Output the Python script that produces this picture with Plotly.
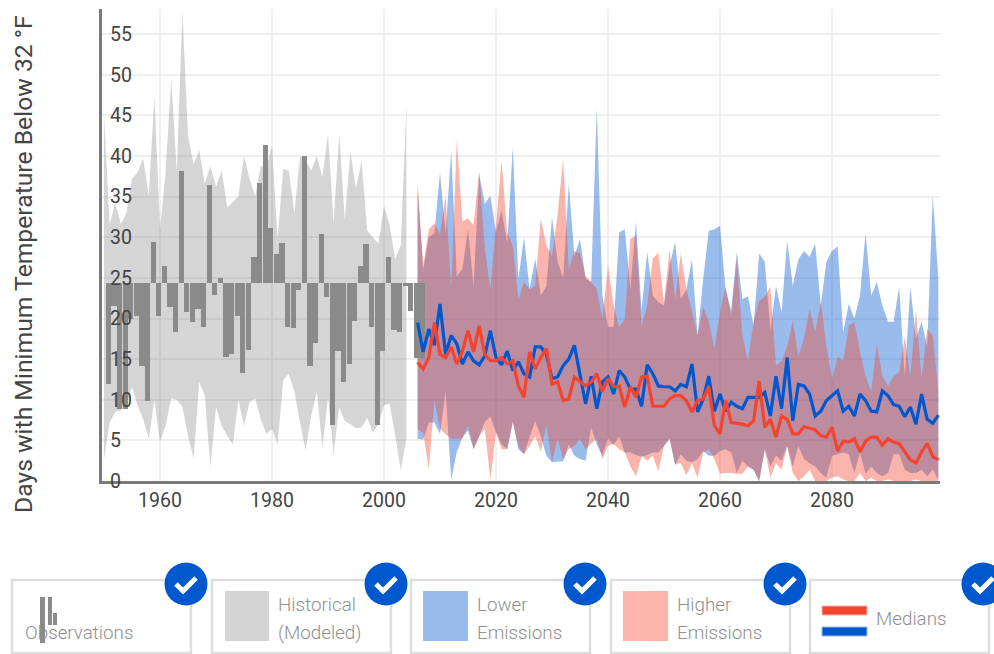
import plotly.graph_objects as go

# ---------- data ----------
obs_years = list(range(1951, 2008))
obs_values = [11.9, 21.5, 8.9, 8.9, 20.0, 20.3, 14.2, 9.9, 29.4, 20.3, 26.5, 21.4, 18.4, 38.2, 20.8, 19.6, 21.2, 19.0,
              36.4, 22.9, 25.0, 15.3, 15.6, 20.3, 13.3, 16.1, 27.6, 36.7, 41.3, 31.1, 27.9, 29.3, 19.0, 18.8, 23.5,
              40.0, 14.2, 17.0, 30.4, 22.7, 6.9, 16.0, 12.2, 14.4, 19.7, 26.5, 29.2, 19.0, 6.9, 16.0, 27.6, 18.6,
              18.4, 24.0, 20.9, 15.1, 15.1]
obs_baseline = 24.4

hist_years = list(range(1950, 2005))
hist_upper = [45, 31.5, 34.3, 31.6, 33, 37.2, 38, 39.7, 35.1, 47.4, 31, 38, 49.5, 38, 57.9, 42.5, 39, 40.7, 36.6, 38.8,
              36.2, 38.2, 33.7, 34.3, 35.1, 40, 37.2, 35, 38.8, 38.5, 41.3, 29.8, 38.4, 38.2, 33, 40, 39.5, 38.2, 40,
              37.4, 42.7, 31.8, 42.7, 32.2, 40.5, 36, 39.4, 30.8, 30, 29.2, 33.9, 31.5, 27.3, 29, 46.2]
hist_lower = [2.7, 7.2, 8.5, 8.7, 9.3, 11.6, 9.3, 7.6, 5.2, 10, 4.8, 6.8, 10.2, 10, 9.1, 5.6, 2.7, 12.2, 10.5, 1.7,
              9.1, 6.8, 5.6, 4.5, 10, 6.8, 9.7, 10.2, 7.6, 5.8, 6.4, 4.5, 12.4, 13.2, 11, 7.2, 3.8, 8, 11, 4.2, 10.3,
              3.3, 9.1, 7.4, 7, 6.5, 6.6, 7.8, 6, 7, 9.3, 9.5, 5.6, 1.3, 5.2]

proj_years = list(range(2006, 2100))
lower_top = [36, 26, 30, 30.5, 38, 30.5, 40.6, 25.2, 26.1, 31, 24, 37.8, 34.1, 35.1, 30.6, 33.3, 29.2, 41.1, 24.9, 30,
             23.6, 27.4, 22.8, 24, 32.5, 27, 25, 36.6, 27.7, 29.8, 24.9, 24.5, 46, 22.8, 19, 19, 30.6, 31, 23.6, 31.9,
             21, 28.2, 22.8, 22, 21.6, 26.5, 29.4, 22.4, 23.6, 27.3, 17.9, 24.9, 30.8, 31, 31.4, 23.6, 21, 28.2, 22.4,
             22.7, 19.1, 28, 27, 18.5, 24, 20.8, 29.6, 24, 27.3, 28.3, 27.6, 29.2, 21.6, 27, 28.3, 28.9, 18.3, 21.8,
             20, 22.8, 30.6, 22.8, 24.5, 21.6, 19.6, 19.6, 23.9, 12.9, 23.9, 17.5, 19.6, 16.6, 35.1, 24.9]
lower_bottom = [5.2, 5.1, 7.2, 7.2, 5.8, 11, 0.2, 3.6, 5.4, 6.2, 3.9, 5.5, 7.3, 7.9, 6, 4.5, 3.9, 7.3, 3.9, 3.3,
                5.4, 7.4, 5.5, 3.1, 2.3, 2.4, 2.4, 4.5, 3.1, 2.7, 2.5, 6.6, 4.5, 3.1, 5.2, 4.4, 5.5, 3.5, 3.5, 3.2,
                3, 3.2, 3.5, 3.5, 4.3, 5.2, 1.9, 3.3, 2.5, 2.3, 2.7, 3.7, 3.1, 3.1, 3.7, 3.9, 3.5, 1, 2.5, 1.8, 1.4, 0,
                3.9, 1.8, 3.1, 2.5, 4.3, 1.8, 4.3, 2.7, 2.2, 1.8, 1, 0.4, 3.1, 3.3, 3.5, 3.3, 1, 3.5, 0.9, 1.8, 1,
                0.6, 1, 3.3, 3.3, 1.4, 1, 1, 1.4, 0.6, 1.4, 0.2]
higher_top = [36.8, 26.5, 31, 31.7, 30.4, 35.1, 23.6, 42.1, 31.9, 32.3, 31.5, 38.2, 28.6, 23.6, 31.5, 39.4, 30.6, 28.9,
              22.4, 24.5, 23.6, 24, 32.3, 29, 27.7, 32.7, 39.7, 26, 28.3, 28, 25.2, 24.5, 23.6, 20, 26.5, 21.6, 19,
              19.9, 29.8, 30.2, 19, 21.6, 27.4, 28.1, 21.9, 28.5, 22.4, 28, 23.6, 20.8, 17.9, 21.4, 19.6, 16.3, 20.8,
              23.9, 20.3, 27.3, 17.9, 14.8, 19.6, 22.2, 22.7, 23.9, 14.2, 14.8, 16.6, 19.7, 15.4, 17.5, 21.2, 18.3, 22,
              16.6, 12.6, 15.3, 14.8, 19.1, 19.6, 15.9, 12.9, 11, 16.9, 12.9, 11.7, 12.9, 13.4, 17.7, 12.9, 21, 12.6,
              18.7, 17.9, 11]
higher_bottom = [6.4, 5.9, 1.5, 9.9, 6.4, 5.8, 5.2, 5.2, 5.2, 6.8, 3.9, 5.5, 6.4, 0.2, 6, 3.9, 3.9, 7.3, 4.3, 3.3,
                 4.3, 5.5, 3.6, 7, 2.3, 5.2, 2.7, 3.9, 4.3, 5.2, 3.9, 4.6, 5.2, 2.7, 4.3, 4.6, 3.9, 3.5, 1.8, 0.6, 3.1,
                 2.5, 3.1, 1.2, 4.3, 5.2, 2.1, 2.2, 0.7, 2.2, 0.4, 3.5, 3.9, 2.7, 0.9, 1, 1, 0.9, 0.9, 1.8, 1.4, 0,
                 3.9, 0.4, 2.2, 1.4, 4.3, 1, 0, 0.6, 1.4, 0, 0, 0, 0.4, 0.6, 0.2, 0, 0, 1, 0, 0.4, 0, 0, 0.2, 0, 0, 0,
                 0, 0.2, 0, 0, 0, 0]
lower_median = [19.5, 15.9, 18.7, 16.7, 21.8, 15.6, 17.9, 16.9, 14.4, 15.9, 14.8, 14.3, 15.4, 18.5, 15.2, 14.3, 16, 13.6,
                14.7, 13.2, 12.8, 16.5, 16.5, 15.6, 12.6, 12.8, 14.2, 15, 16.7, 12.9, 9.5, 12.9, 8.9, 12.2, 12.8, 10.7,
                13.6, 12.8, 11.3, 11.3, 9.2, 14.3, 13.2, 11.7, 11.6, 11.6, 11.1, 11.9, 11.6, 14.4, 8.5, 10.1, 12.9, 8.6,
                10.7, 8.6, 9.7, 9.2, 8.9, 10.3, 10.3, 10.3, 10.9, 8, 12.9, 8.9, 15.2, 7.4, 11.9, 11.7, 10.7, 8, 8.6, 9.9,
                10.5, 11.1, 8.6, 9.2, 8, 10.7, 9.9, 8.6, 8.5, 11.1, 10.5, 9.4, 9.2, 7.9, 9.1, 7, 10.7, 7.6, 7.1, 8.1]
higher_median = [14.6, 13.8, 15.2, 19.5, 15.6, 15.2, 16.5, 14.4, 16, 18.5, 15.9, 19.1, 15.6, 14.8, 14.8, 15.2, 14.4, 14.8,
                 11.7, 10.3, 15.9, 13.8, 15.2, 16.3, 11.9, 12.2, 9.9, 10.1, 12.8, 12.3, 11.7, 12.2, 13.2, 11, 12.6, 11.6,
                 11.7, 9.1, 11.6, 10.3, 12.8, 12.9, 9.2, 9.2, 9.2, 10.1, 10.5, 10.5, 9.9, 8.5, 9.9, 10.1, 11.6, 6.8, 5.8,
                 9.9, 7.2, 7.1, 7, 6.8, 7.4, 12.3, 6.6, 7.6, 5.4, 8, 7.6, 5.8, 5.8, 6.7, 6.5, 6.3, 5.6, 5.4, 6.6, 3.7,
                 4.9, 4.8, 5.2, 3.6, 4.9, 5.4, 5.4, 4.4, 5.2, 4.8, 4.6, 3.6, 2.6, 2.2, 3.6, 4.6, 3, 2.6]
for arr in (lower_top, lower_bottom, higher_top, higher_bottom, lower_median, higher_median):
    assert len(arr) == len(proj_years), len(arr)
assert len(hist_upper) == len(hist_years) == len(hist_lower)
assert len(obs_values) == len(obs_years)

x_ticks = [1960, 1980, 2000, 2020, 2040, 2060, 2080]
y_ticks = [0, 5, 10, 15, 20, 25, 30, 35, 40, 45, 50, 55]
y_title = "Days with Minimum Temperature Below 32 °F"

BLUE = "#0058cf"
RED = "#f5442d"
W, H = 994, 654
L, R, T, B = 102, 940, 9, 481
TEXT = "#444444"
FONT = "Roboto"


def band(xs, up, lo, color):
    return go.Scatter(x=xs + xs[::-1], y=up + lo[::-1], fill="toself", fillcolor=color,
                      mode="none", hoverinfo="skip", showlegend=False)


fig = go.Figure()
fig.add_trace(band(hist_years, hist_upper, hist_lower, "rgba(120,120,120,0.31)"))
fig.add_trace(band(proj_years, lower_top, lower_bottom, "rgba(0,88,207,0.4)"))
fig.add_trace(band(proj_years, higher_top, higher_bottom, "rgba(245,68,45,0.4)"))
fig.add_trace(go.Bar(x=obs_years, y=[v - obs_baseline for v in obs_values], base=obs_baseline,
                     width=0.93, offset=-0.67, marker=dict(color="#8a8a8a", line_width=0),
                     hoverinfo="skip", showlegend=False, yaxis="y2"))
fig.add_trace(go.Scatter(x=proj_years, y=lower_median, mode="lines", line=dict(color=BLUE, width=3.2),
                         hoverinfo="skip", showlegend=False, yaxis="y2"))
fig.add_trace(go.Scatter(x=proj_years, y=higher_median, mode="lines", line=dict(color=RED, width=3.2),
                         hoverinfo="skip", showlegend=False, yaxis="y2"))

yrange = [0, 58.1]
fig.update_layout(
    width=W, height=H, autosize=False, paper_bgcolor="white", plot_bgcolor="white",
    margin=dict(l=L, r=W - R, t=T, b=H - B, pad=0),
    font=dict(family=FONT, color=TEXT),
    xaxis=dict(range=[1949.64, 2099.29], tickvals=x_ticks, ticks="", showline=True, linecolor="#7a7a7a", linewidth=3,
               gridcolor="#efefef", gridwidth=2, zeroline=False, tickfont=dict(size=19.5, color=TEXT)),
    yaxis=dict(range=yrange, tickvals=y_ticks, ticks="", showline=True, linecolor="#7a7a7a", linewidth=3,
               gridcolor="#efefef", gridwidth=2, zeroline=False, ticklabelposition="inside",
               ticklabelstandoff=9, ticklabeloverflow="allow", tickfont=dict(size=19.5, color=TEXT)),
    yaxis2=dict(range=yrange, overlaying="y", visible=False),
    bargap=0,
)


def px(x):
    return (x - L) / (R - L)


def py(y):
    return (B - y) / (B - T)


shapes, notes = [], []


def rect(x0, y0, x1, y1, fill, line=None, lw=0):
    shapes.append(dict(type="rect", xref="paper", yref="paper", x0=px(x0), x1=px(x1), y0=py(y0), y1=py(y1),
                       fillcolor=fill, line=dict(color=line or fill, width=lw), layer="above"))


def label(x, y, text):
    notes.append(dict(xref="paper", yref="paper", x=px(x - 2), y=py(y), text=text, showarrow=False, xanchor="left",
                      yanchor="middle", font=dict(family="Roboto Light, Roboto", size=18.8, color="#909090")))


box_lefts = [12, 212, 411, 611, 810]
for left in box_lefts:
    rect(left, 580, left + 179, 653, "white", "#dedede", 2.5)

# swatches
for x0, x1, y0, y1 in [(40, 45, 597, 643), (48, 52, 597, 625), (53, 57, 613, 625)]:
    rect(x0, y0, x1, y1, "#8a8a8a")
rect(225, 591, 269, 641, "#d4d4d4")
rect(423, 591, 468, 641, "#99bbec")
rect(623, 591, 668, 641, "#fbb4ab")
rect(822, 606, 867, 615, RED, "#fbb4ab", 1)
rect(822, 627, 867, 636, BLUE, "#99bbec", 1)

label(25, 633, "Observations")
label(278, 605, "Historical")
label(278, 633, "(Modeled)")
label(477, 605, "Lower")
label(477, 633, "Emissions")
label(677, 605, "Higher")
label(677, 633, "Emissions")
label(876, 619, "Medians")

# check badges
for cx in [186, 386, 585, 785, 983]:
    cy, r = 584, 21.5
    shapes.append(dict(type="circle", xref="paper", yref="paper", x0=px(cx - r), x1=px(cx + r), y0=py(cy - r),
                       y1=py(cy + r), fillcolor=BLUE, line_width=0, layer="above"))
    path = f"M {px(cx - 10)} {py(cy)} L {px(cx - 3)} {py(cy + 7)} L {px(cx + 10)} {py(cy - 6)}"
    shapes.append(dict(type="path", xref="paper", yref="paper", path=path, line=dict(color="white", width=5),
                       layer="above"))

notes.append(dict(xref="paper", yref="paper", x=px(23), y=py(264), text=y_title, textangle=-90, showarrow=False,
                  xanchor="center", yanchor="middle", font=dict(family=FONT, size=24.7, color=TEXT)))

fig.update_layout(shapes=shapes, annotations=notes)
fig.write_html("out.html", post_script="document.body.style.margin='0';", config={"displayModeBar": False})
